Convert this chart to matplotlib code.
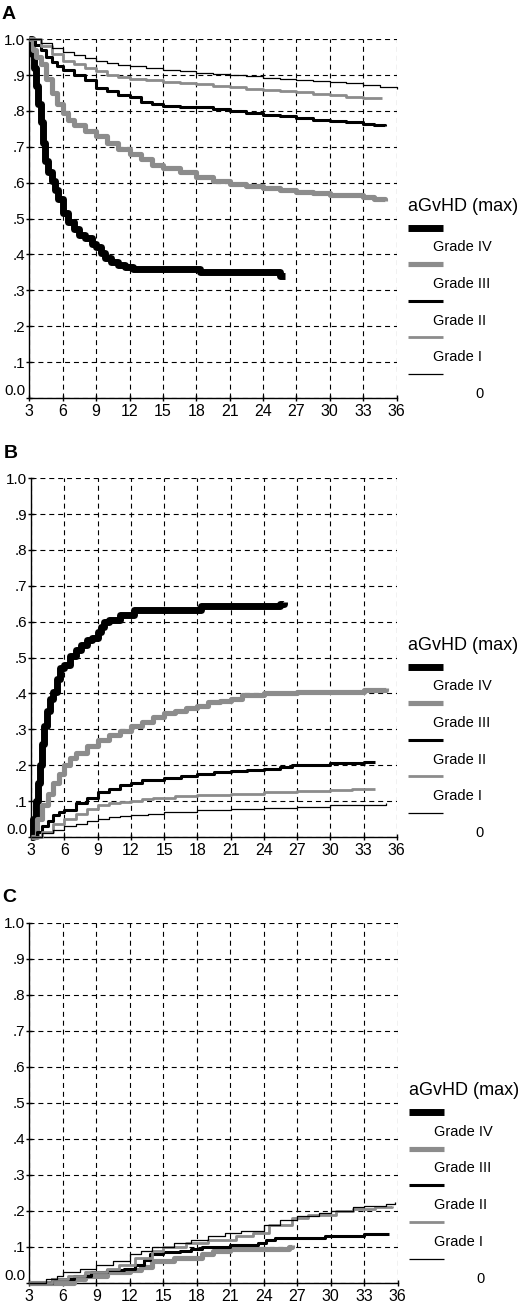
import matplotlib
matplotlib.use('Agg')
import matplotlib.pyplot as plt
from matplotlib.lines import Line2D

plt.rcParams['font.family'] = ['Liberation Sans', 'DejaVu Sans']

# months since transplant on x, probability on y
x_ticks = [3, 6, 9, 12, 15, 18, 21, 24, 27, 30, 33, 36]
y_ticks = [0.0, 0.1, 0.2, 0.3, 0.4, 0.5, 0.6, 0.7, 0.8, 0.9, 1.0]
y_labels = ['0.0', '.1', '.2', '.3', '.4', '.5', '.6', '.7', '.8', '.9', '1.0']
grades = ['Grade IV', 'Grade III', 'Grade II', 'Grade I', '0']

# panel A
a_iv_x = [3, 3.2, 3.4, 3.6, 3.8, 4.0, 4.2, 4.4, 4.7, 5.0, 5.3, 5.6, 6.0, 6.5, 7.0, 7.5, 8.0, 8.6, 9.0, 9.4, 9.8, 10.3, 11.0, 11.6, 12.3, 18.3, 25.5, 26.0]
a_iv_y = [1.0, 0.96, 0.92, 0.87, 0.82, 0.77, 0.71, 0.66, 0.63, 0.605, 0.58, 0.555, 0.515, 0.49, 0.47, 0.455, 0.445, 0.43, 0.42, 0.405, 0.39, 0.38, 0.37, 0.365, 0.36, 0.35, 0.34, 0.34]
a_iii_x = [3, 3.3, 3.6, 4.0, 4.5, 5.0, 5.5, 6.0, 6.5, 7.0, 8.0, 9.0, 10.0, 11.0, 12.0, 13.0, 14.0, 15.0, 16.5, 18.0, 19.5, 21.0, 22.5, 24.0, 25.5, 27.0, 28.5, 30.0, 31.5, 33.0, 34.0, 35.0]
a_iii_y = [1.0, 0.97, 0.95, 0.93, 0.89, 0.85, 0.82, 0.795, 0.775, 0.76, 0.745, 0.73, 0.71, 0.695, 0.68, 0.665, 0.65, 0.64, 0.63, 0.615, 0.605, 0.595, 0.59, 0.585, 0.58, 0.575, 0.57, 0.565, 0.565, 0.56, 0.555, 0.55]
a_ii_x = [3, 3.5, 4, 4.5, 5, 5.5, 6, 7, 8, 9, 10, 11, 12, 13, 14, 15, 16.5, 18, 19.5, 21, 22.5, 24, 25.5, 27, 28.5, 30, 31.5, 33, 34, 35]
a_ii_y = [1.0, 0.985, 0.97, 0.95, 0.935, 0.925, 0.915, 0.9, 0.885, 0.865, 0.855, 0.845, 0.84, 0.825, 0.82, 0.815, 0.812, 0.81, 0.805, 0.8, 0.795, 0.79, 0.785, 0.78, 0.775, 0.772, 0.768, 0.763, 0.76, 0.757]
a_i_x = [3, 4, 5, 6, 7, 8, 9, 10, 11, 12, 13.5, 15, 16.5, 18, 19.5, 21, 22.5, 24, 25.5, 27, 28.5, 30, 31.5, 33, 34.7]
a_i_y = [1.0, 0.98, 0.96, 0.94, 0.93, 0.92, 0.91, 0.9, 0.895, 0.89, 0.885, 0.88, 0.878, 0.875, 0.87, 0.866, 0.862, 0.859, 0.855, 0.852, 0.848, 0.843, 0.84, 0.836, 0.835]
a_0_x = [3, 4, 5, 6, 7, 8, 9, 10, 11, 12, 13.5, 15, 16.5, 18, 19.5, 21, 22.5, 24, 25.5, 27, 28.5, 30, 31.5, 33, 34.5, 36]
a_0_y = [1.0, 0.99, 0.975, 0.965, 0.955, 0.947, 0.94, 0.933, 0.928, 0.924, 0.92, 0.915, 0.91, 0.905, 0.903, 0.9, 0.897, 0.892, 0.89, 0.887, 0.884, 0.88, 0.877, 0.873, 0.868, 0.862]

# panel B
b_iv_x = [3, 3.2, 3.4, 3.6, 3.8, 4.0, 4.2, 4.4, 4.7, 5.0, 5.3, 5.6, 6.0, 6.5, 7.0, 7.5, 8.0, 8.5, 9.0, 9.3, 9.6, 10.0, 11.0, 12.3, 18.3, 25.5, 25.8]
b_iv_y = [0.0, 0.05, 0.10, 0.15, 0.20, 0.26, 0.31, 0.35, 0.385, 0.405, 0.44, 0.47, 0.48, 0.505, 0.52, 0.535, 0.55, 0.555, 0.57, 0.585, 0.6, 0.605, 0.62, 0.633, 0.645, 0.65, 0.655]
b_iii_x = [3, 3.5, 4, 4.5, 5, 5.5, 6, 6.5, 7, 8, 9, 10, 11, 12, 13, 14, 15, 16, 17, 18, 19, 20, 21, 22, 24, 27, 30, 33, 34.5, 35]
b_iii_y = [0, 0.05, 0.09, 0.12, 0.15, 0.175, 0.2, 0.22, 0.235, 0.255, 0.27, 0.285, 0.295, 0.31, 0.32, 0.335, 0.345, 0.35, 0.36, 0.365, 0.375, 0.38, 0.385, 0.395, 0.4, 0.405, 0.405, 0.41, 0.41, 0.415]
b_ii_x = [3, 3.5, 4, 4.5, 5, 5.5, 6, 7, 8, 9, 10, 11, 12, 13, 15, 16.5, 18, 19.5, 21, 22.5, 24, 25.5, 26.5, 28, 30, 31.5, 33, 34]
b_ii_y = [0, 0.015, 0.03, 0.045, 0.06, 0.07, 0.075, 0.095, 0.11, 0.125, 0.135, 0.145, 0.15, 0.16, 0.165, 0.17, 0.175, 0.18, 0.185, 0.188, 0.19, 0.195, 0.2, 0.2, 0.205, 0.207, 0.21, 0.21]
b_i_x = [3, 4, 5, 6, 7, 8, 9, 10, 11, 12, 13, 14, 16, 18, 21, 24, 27, 30, 32, 34]
b_i_y = [0, 0.015, 0.035, 0.05, 0.065, 0.078, 0.088, 0.095, 0.098, 0.1, 0.105, 0.11, 0.113, 0.116, 0.12, 0.125, 0.127, 0.132, 0.135, 0.135]
b_0_x = [3, 4, 5, 6, 7, 8, 9, 10, 11, 12, 13.5, 15, 18, 21, 24, 27, 30, 33, 35]
b_0_y = [0, 0.01, 0.02, 0.03, 0.037, 0.044, 0.05, 0.055, 0.058, 0.06, 0.065, 0.07, 0.075, 0.079, 0.08, 0.085, 0.088, 0.09, 0.095]

# panel C (no grade IV curve visible)
c_iv_x = []
c_iv_y = []
c_iii_x = [3, 7, 8, 10, 12, 13, 14, 16, 18.5, 19.5, 21, 26.3, 26.5]
c_iii_y = [0, 0.01, 0.02, 0.03, 0.035, 0.045, 0.06, 0.07, 0.08, 0.09, 0.095, 0.1, 0.105]
c_ii_x = [3, 5, 7, 8.5, 10, 11.5, 12.5, 13.3, 13.8, 15, 16.5, 17.5, 18.5, 21, 23.5, 24.2, 25, 29.5, 33, 35.2]
c_ii_y = [0, 0.01, 0.02, 0.03, 0.035, 0.04, 0.05, 0.065, 0.08, 0.085, 0.09, 0.095, 0.1, 0.105, 0.11, 0.12, 0.125, 0.13, 0.135, 0.135]
c_i_x = [3, 5, 6.5, 8, 10, 11, 12.5, 14, 15, 17, 19, 21.5, 23, 24.5, 26.5, 28, 30.5, 32, 34, 35.5]
c_i_y = [0, 0.01, 0.02, 0.03, 0.04, 0.05, 0.07, 0.09, 0.1, 0.11, 0.12, 0.13, 0.14, 0.16, 0.18, 0.19, 0.2, 0.205, 0.21, 0.215]
c_0_x = [3, 4.5, 5.5, 6, 7.5, 9, 10.5, 12, 13, 14, 16, 17.5, 19, 20.5, 22, 24, 25.5, 27, 29, 30, 32, 33, 35, 35.8]
c_0_y = [0, 0.01, 0.02, 0.03, 0.04, 0.05, 0.06, 0.08, 0.09, 0.1, 0.11, 0.12, 0.13, 0.14, 0.145, 0.16, 0.175, 0.185, 0.195, 0.2, 0.21, 0.215, 0.22, 0.225]

panels = [
    ('A', [(a_iv_x, a_iv_y), (a_iii_x, a_iii_y), (a_ii_x, a_ii_y), (a_i_x, a_i_y), (a_0_x, a_0_y)]),
    ('B', [(b_iv_x, b_iv_y), (b_iii_x, b_iii_y), (b_ii_x, b_ii_y), (b_i_x, b_i_y), (b_0_x, b_0_y)]),
    ('C', [(c_iv_x, c_iv_y), (c_iii_x, c_iii_y), (c_ii_x, c_ii_y), (c_i_x, c_i_y), (c_0_x, c_0_y)]),
]

# line style per grade: colour, width (pt)
styles = [('black', 5.0), ('#8c8c8c', 3.7), ('black', 2.2), ('#8c8c8c', 2.0), ('black', 0.9)]

# axes boxes [left, bottom, width, height] in figure fraction
boxes = [
    [0.0565, 0.695, 0.706, 0.275],
    [0.0600, 0.3586, 0.703, 0.275],
    [0.0565, 0.0169, 0.708, 0.276],
]

fig = plt.figure(figsize=(5.2, 13.05), dpi=100)

for (letter, curves), box in zip(panels, boxes):
    ax = fig.add_axes(box)
    ax.set_xlim(3, 36)
    ax.set_ylim(0, 1)
    ax.set_xticks(x_ticks)
    ax.set_yticks(y_ticks)
    ax.set_yticklabels(y_labels)
    ax.get_yticklabels()[0].set_va('bottom')
    ax.grid(True, color='black', linestyle=(0, (4.5, 3.5)), linewidth=0.8)
    for s in ['top', 'right']:
        ax.spines[s].set_visible(False)
    for s in ['left', 'bottom']:
        ax.spines[s].set_linewidth(1.0)
    ax.tick_params(direction='inout', length=4, width=1, pad=2)
    ax.tick_params(axis='x', labelsize=11.5)
    ax.tick_params(axis='y', labelsize=11, pad=1)

    for (xs, ys), (col, lw) in zip(curves, styles):
        ax.plot(xs, ys, drawstyle='steps-post', color=col, linewidth=lw,
                solid_capstyle='butt', clip_on=False, zorder=3)

    ax.text(-0.075, 1.07, letter, transform=ax.transAxes, fontsize=14,
            fontweight='bold', ha='left', va='center')

    # SPSS style legend: handle on one row, label underneath
    ax.text(1.03, 0.535, 'aGvHD (max)', transform=ax.transAxes,
            fontsize=13, ha='left', va='center')
    for i, (name, (col, lw)) in enumerate(zip(grades, styles)):
        yy = 0.475 - i * 0.102
        ax.add_line(Line2D([1.03, 1.126], [yy, yy], transform=ax.transAxes,
                           color=col, linewidth=lw, solid_capstyle='butt',
                           clip_on=False))
        if name == '0':
            ax.text(1.225, yy - 0.055, name, transform=ax.transAxes,
                    fontsize=10.5, ha='center', va='center')
        else:
            ax.text(1.10, yy - 0.055, name, transform=ax.transAxes,
                    fontsize=10.5, ha='left', va='center')

fig.savefig('out.png', dpi=100)
